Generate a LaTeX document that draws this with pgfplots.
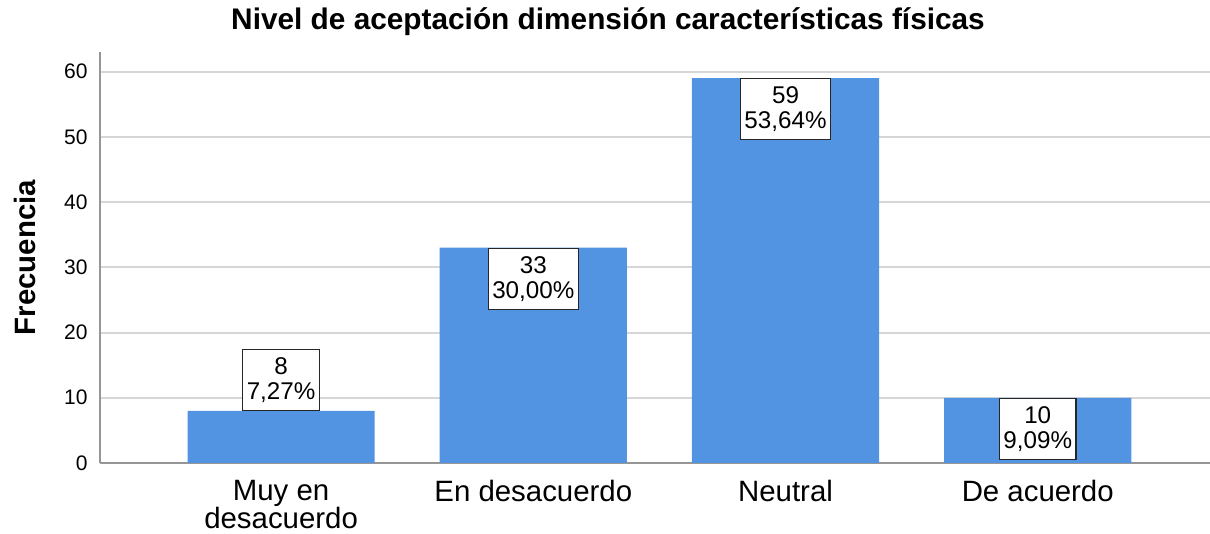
\documentclass[border=0pt]{standalone}
\usepackage{pgfplots}
\pgfplotsset{compat=1.18}
\usepackage{fontspec}
\setmainfont{Liberation Sans}
\definecolor{barblue}{RGB}{83,148,226}
\definecolor{gridgray}{RGB}{214,214,214}
\definecolor{axisgray}{RGB}{150,150,150}
\newcommand\catfont{\fontsize{14.7}{14}\selectfont\lineskiplimit=-20pt\relax\lineskip=0pt\relax}

\begin{document}
\begin{tikzpicture}
\begin{axis}[
  scale only axis,
  width=555pt, height=205.5pt,
  xmin=-0.718, xmax=3.683,
  ymin=0, ymax=63,
  ybar, bar width=0.742,
  axis x line*=bottom, axis y line*=left,
  axis line style={axisgray, line width=1pt},
  xtick={0,1,2,3},
  xticklabels={{Muy en\\desacuerdo},{En desacuerdo},{Neutral},{De acuerdo}},
  ytick={0,10,...,60},
  major tick length=0pt,
  ymajorgrids, grid style={gridgray, line width=1pt},
  xticklabel style={font=\catfont, align=center, anchor=north, inner sep=0pt, yshift=-8.5pt},
  yticklabel style={font=\fontsize{10.5}{12}\selectfont, anchor=east, inner sep=0pt, xshift=-6pt},
  /pgf/number format/assume math mode=true,
  title={Nivel de aceptación dimensión características físicas},
  title style={font=\bfseries\fontsize{14.9}{17}\selectfont, at={(axis description cs:0.4577,1)}, anchor=base, yshift=5pt},
  ylabel={Frecuencia},
  ylabel style={font=\bfseries\fontsize{14.7}{17}\selectfont, at={(axis description cs:-0.0676,0.5)}, anchor=center},
  point meta=explicit symbolic,
  visualization depends on={value \thisrow{pct}\as\pct},
  visualization depends on={value \thisrow{anc}\as\anc},
  nodes near coords={\pgfplotspointmeta\\\pct\%},
  every node near coord/.append style={draw=black!85, fill=white, align=center,
    font=\fontsize{12.1}{12.5}\selectfont, inner xsep=2pt, inner ysep=4pt,
    line width=0.6pt, anchor=\anc},
]
\addplot[fill=barblue, draw=none] table[x=x, y=y, meta=n] {
x y n pct anc
0 8 8 7,27 south
1 33 33 30,00 north
2 59 59 53,64 north
3 10 10 9,09 north
};
\end{axis}
\pgfresetboundingbox
\path ([xshift=-50pt,yshift=-35.5pt]current axis.south west) rectangle ([yshift=26pt]current axis.north east);
\end{tikzpicture}
\end{document}
